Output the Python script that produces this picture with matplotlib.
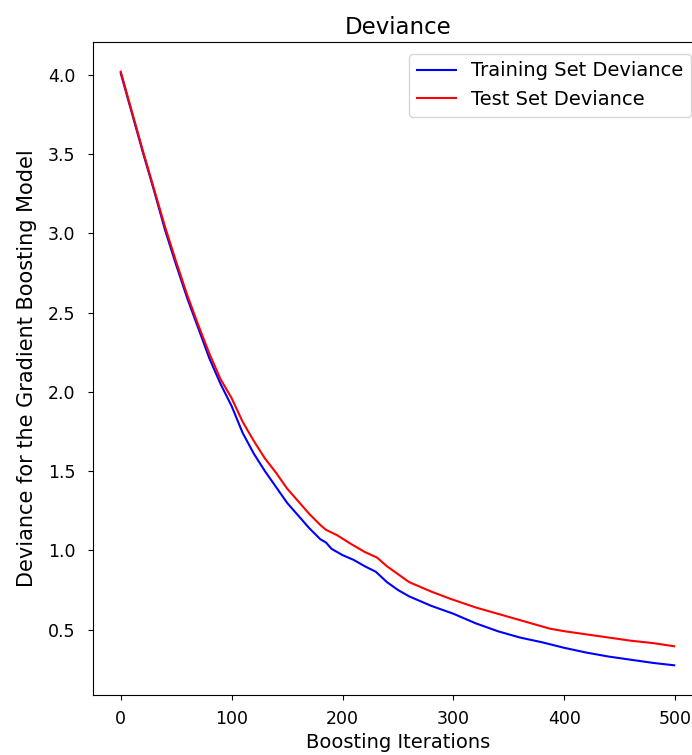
import matplotlib
matplotlib.use("Agg")
import matplotlib.pyplot as plt

train_iter = [0, 10, 20, 30, 40, 50, 60, 70, 80, 90, 100, 110, 120, 130, 140,
              150, 160, 170, 180, 185, 190, 200, 210, 220, 230, 240, 250, 260,
              280, 300, 320, 340, 360, 380, 400, 420, 440, 460, 480, 499]
train_dev = [4.01, 3.76, 3.51, 3.27, 3.02, 2.80, 2.59, 2.40, 2.21, 2.05, 1.91,
             1.74, 1.61, 1.50, 1.40, 1.30, 1.22, 1.14, 1.07, 1.05, 1.01, 0.97,
             0.94, 0.90, 0.865, 0.80, 0.75, 0.71, 0.65, 0.60, 0.54, 0.49, 0.45,
             0.42, 0.385, 0.355, 0.33, 0.31, 0.29, 0.275]

test_iter = [0, 10, 20, 30, 40, 50, 60, 70, 80, 90, 100, 110, 120, 130, 140,
             150, 160, 170, 180, 185, 195, 207, 220, 231, 240, 250, 260, 280,
             297, 320, 340, 360, 387, 400, 420, 440, 460, 480, 499]
test_dev = [4.02, 3.77, 3.52, 3.28, 3.04, 2.82, 2.61, 2.42, 2.24, 2.08, 1.96,
            1.81, 1.69, 1.58, 1.49, 1.39, 1.31, 1.23, 1.16, 1.13, 1.096, 1.043,
            0.99, 0.955, 0.90, 0.85, 0.80, 0.74, 0.695, 0.64, 0.60, 0.56, 0.506,
            0.49, 0.47, 0.45, 0.43, 0.415, 0.395]

fig = plt.figure(figsize=(6.92, 7.55), dpi=100)
# the original picture is cropped on the right, so the axes run past the edge
ax = fig.add_axes([0.1344, 0.0795, 0.8815, 0.8649])

ax.plot(train_iter, train_dev, color='b', label='Training Set Deviance')
ax.plot(test_iter, test_dev, color='r', label='Test Set Deviance')
ax.set_title('Deviance', fontsize=16.5)
ax.set_xlabel('Boosting Iterations', fontsize=14, labelpad=4)
ax.set_ylabel('Deviance for the Gradient Boosting Model', fontsize=15, labelpad=8)
ax.set_xticks([0, 100, 200, 300, 400, 500])
ax.set_yticks([0.5, 1.0, 1.5, 2.0, 2.5, 3.0, 3.5, 4.0])
ax.tick_params(axis='y', labelsize=12.5, pad=9)
ax.tick_params(axis='x', labelsize=12.5, pad=7)
ax.set_xlim(-25, 525)
ax.legend(loc='upper right', fontsize=14, borderaxespad=0.6)

plt.savefig('out.png', dpi=100)
plt.close()
